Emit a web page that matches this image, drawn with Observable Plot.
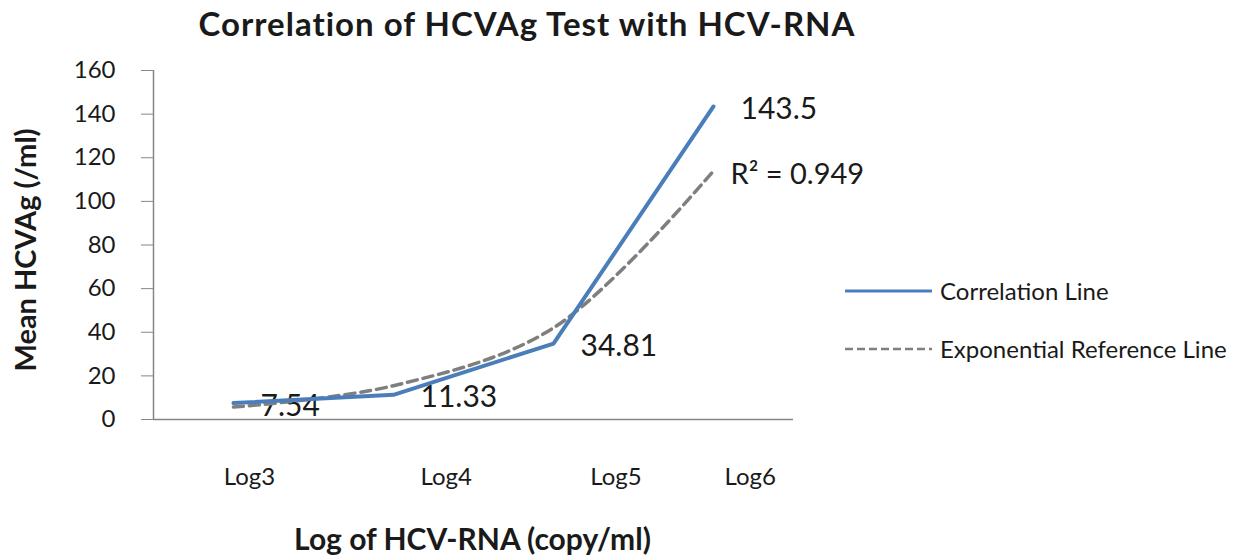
<!DOCTYPE html>
<html>
<head>
<meta charset="utf-8">
<script src="https://cdn.jsdelivr.net/npm/d3@7"></script>
<script src="https://cdn.jsdelivr.net/npm/@observablehq/plot@0.6"></script>
<style>
  body { margin: 0; background: #fff; }
  #wrap { position: relative; width: 1242px; height: 556px; font-family: Lato, sans-serif; color: #1a1a1a; }
  #title { position: absolute; left: 0; top: 4px; width: 1054px; text-align: center; font-weight: bold; font-size: 33px; letter-spacing: 1px; line-height: 1.2; white-space: nowrap; }
  .legend-item { position: absolute; left: 845px; display: flex; align-items: center; font-size: 24px; line-height: 1.2; white-space: nowrap; }
  .legend-item svg { margin-right: 8px; display: block; }
</style>
</head>
<body>
<div id="wrap">
  <div id="chart"></div>
  <div id="title"></div>
  <div id="legend"></div>
</div>
<script>
// ---- data ----
const chartTitle = "Correlation of HCVAg Test with HCV-RNA";
const yTitle = "Mean HCVAg (/ml)";
const xTitle = "Log of HCV-RNA (copy/ml)";
const categories = ["Log3", "Log4", "Log5", "Log6"];
const categoryIndex = [1, 2, 3, 4];
const meanHCVAg = [7.54, 11.33, 34.81, 143.5];
const valueLabels = ["7.54", "11.33", "34.81", "143.5"];
const trendHCVAg = [5.7, 15.5, 42, 114];
const rSquaredLabel = "R\u00B2 = 0.949";
const tickLabelAt = [1.1, 2.33, 3.39, 4.23];
const yTicks = [0, 20, 40, 60, 80, 100, 120, 140, 160];
const seriesNames = ["Correlation Line", "Exponential Reference Line"];
const xDomain = [0.5, 4.5];
const yDomain = [0, 160];

const blue = "#4a7ebb";
const gray = "#7f7f7f";
const axisGray = "#868686";

const series = categoryIndex.map((x, i) => ({x, y: meanHCVAg[i], label: valueLabels[i]}));
const trend = categoryIndex.map((x, i) => ({x, y: trendHCVAg[i]}));

const chart = Plot.plot({
  width: 1242,
  height: 556,
  marginLeft: 153,
  marginRight: 449,
  marginTop: 70,
  marginBottom: 137,
  style: {fontFamily: "Lato, sans-serif", background: "white", color: "#1a1a1a", overflow: "visible"},
  x: {domain: xDomain, axis: null},
  y: {domain: yDomain, axis: null},
  marks: [
    Plot.ruleY([yDomain[0]], {stroke: axisGray, strokeWidth: 1.5}),
    Plot.ruleX([xDomain[0]], {stroke: axisGray, strokeWidth: 1.5}),
    Plot.axisY({ticks: yTicks, tickSize: 12, tickPadding: 26, fontSize: 24, stroke: axisGray, fill: "#1a1a1a", label: null, tickFormat: d => String(d)}),
    Plot.axisX({ticks: tickLabelAt, tickSize: 0, tickPadding: 48, fontSize: 24, fill: "#1a1a1a", label: null,
                tickFormat: d => categories[tickLabelAt.indexOf(d)]}),
    Plot.text([yTitle], {frameAnchor: "left", textAnchor: "middle", lineAnchor: "middle", rotate: -90, dx: -127, dy: 5, fontSize: 29, fontWeight: "bold"}),
    Plot.text([xTitle], {frameAnchor: "bottom", lineAnchor: "middle", dy: 121, dx: -1, fontSize: 30, fontWeight: "bold"}),
    Plot.text(series, {x: "x", y: "y", text: "label", textAnchor: "start", dx: 27, dy: 3, fontSize: 30}),
    Plot.text([rSquaredLabel], {x: [categoryIndex[3]], y: [trendHCVAg[3]], textAnchor: "start", dx: 17, dy: 4, fontSize: 29}),
    Plot.line(trend, {x: "x", y: "y", stroke: gray, strokeWidth: 3.5, strokeDasharray: "10,6", curve: "catmull-rom"}),
    Plot.line(series, {x: "x", y: "y", stroke: blue, strokeWidth: 4})
  ]
});
document.getElementById("chart").appendChild(chart);
document.getElementById("title").textContent = chartTitle;

// ---- legend ----
const legend = d3.select("#legend");
const legendStyles = [
  {stroke: blue, width: 3, dash: null, top: 277},
  {stroke: gray, width: 2.5, dash: "8,4", top: 335}
];
seriesNames.forEach((name, i) => {
  const s = legendStyles[i];
  const item = legend.append("div").attr("class", "legend-item").style("top", s.top + "px");
  const svg = item.append("svg").attr("width", 87).attr("height", 6);
  svg.append("line").attr("x1", 0).attr("x2", 87).attr("y1", 3).attr("y2", 3)
    .attr("stroke", s.stroke).attr("stroke-width", s.width).attr("stroke-dasharray", s.dash);
  item.append("span").text(name);
});
</script>
</body>
</html>
